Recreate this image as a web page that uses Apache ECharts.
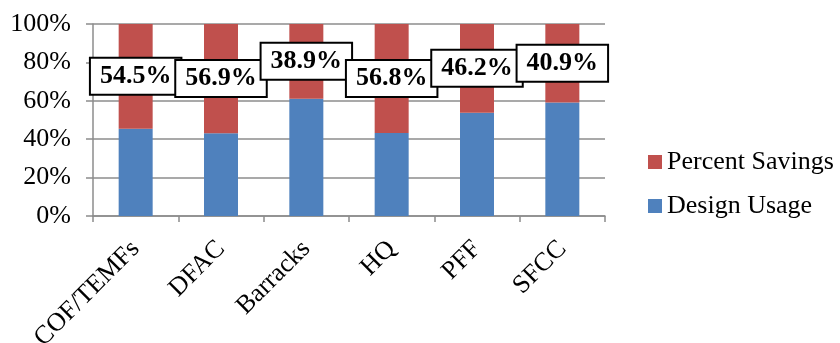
<!DOCTYPE html>
<html>
<head>
<meta charset="utf-8">
<script src="https://cdn.jsdelivr.net/npm/echarts@6/dist/echarts.min.js"></script>
<style>
  html, body { margin: 0; padding: 0; background: #fff; }
  #chart { width: 840px; height: 343px; }
</style>
</head>
<body>
<div id="chart"></div>
<script>
// Building types and their share of energy use vs. savings
const categories = ['COF/TEMFs', 'DFAC', 'Barracks', 'HQ', 'PFF', 'SFCC'];
const percentSavings = [54.5, 56.9, 38.9, 56.8, 46.2, 40.9];
const designUsage = [45.5, 43.1, 61.1, 43.2, 53.8, 59.1];
const yTicks = [0, 20, 40, 60, 80, 100];

const serif = "'Liberation Serif', 'Times New Roman', serif";
const gray = '#8c8c8c';

const chart = echarts.init(document.getElementById('chart'));
chart.setOption({
  animation: false,
  textStyle: { fontFamily: serif },
  grid: { left: 93, right: 235, top: 24, bottom: 127, outerBoundsMode: 'none', containLabel: false },
  legend: {
    orient: 'vertical',
    left: 643,
    top: 144,
    itemWidth: 14,
    itemHeight: 14,
    itemGap: 18,
    icon: 'rect',
    data: ['Percent Savings', 'Design Usage'],
    textStyle: { fontFamily: serif, fontSize: 26, color: '#000' }
  },
  xAxis: {
    type: 'category',
    data: categories,
    axisLine: { lineStyle: { color: gray, width: 1.5 } },
    axisTick: { show: true, length: 6, lineStyle: { color: gray, width: 1.5 } },
    axisLabel: { rotate: 45, margin: 29, fontFamily: serif, fontSize: 26, color: '#000' }
  },
  yAxis: {
    type: 'value',
    min: 0,
    max: 100,
    interval: 20,
    axisLine: { show: true, lineStyle: { color: gray, width: 1.5 } },
    axisTick: { show: true, length: 7, lineStyle: { color: gray, width: 1.5 } },
    splitLine: { lineStyle: { color: gray, width: 1.5 } },
    axisLabel: {
      margin: 22,
      fontFamily: serif,
      fontSize: 26,
      color: '#000',
      formatter: v => (yTicks.includes(v) ? v + '%' : '')
    }
  },
  series: [
    {
      name: 'Design Usage',
      type: 'bar',
      stack: 'total',
      barWidth: 34,
      itemStyle: { color: '#4F81BD' },
      data: designUsage
    },
    {
      name: 'Percent Savings',
      type: 'bar',
      stack: 'total',
      barWidth: 34,
      itemStyle: { color: '#C0504D' },
      data: percentSavings,
      label: {
        show: true,
        position: 'inside',
        formatter: p => p.value.toFixed(1) + '%',
        fontFamily: serif,
        fontWeight: 'bold',
        fontSize: 26,
        color: '#000',
        backgroundColor: '#fff',
        borderColor: '#000',
        borderWidth: 2,
        padding: [5, 9, 4, 9]
      }
    }
  ]
});
</script>
</body>
</html>
